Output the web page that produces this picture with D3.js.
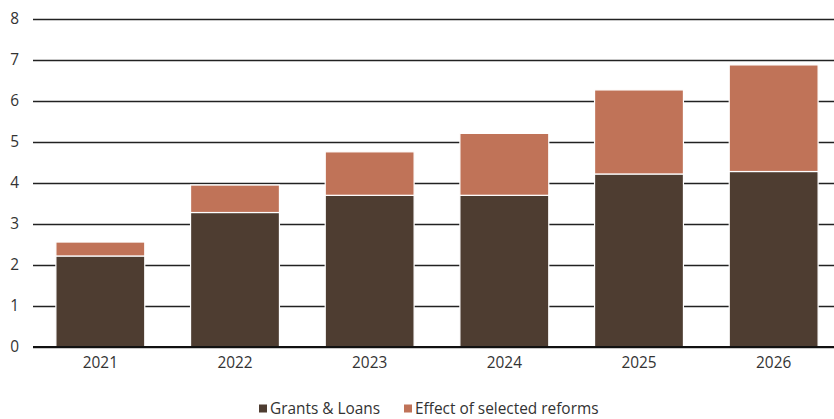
<!DOCTYPE html>
<html>
<head>
<meta charset="utf-8">
<script src="https://cdn.jsdelivr.net/npm/d3@7"></script>
<style>
  html, body { margin: 0; padding: 0; background: #fff; }
  svg { display: block; font-family: "Open Sans", "Noto Sans", sans-serif; }
</style>
</head>
<body>
<svg id="chart" width="834" height="419"></svg>
<script>
// Chart data
const years = ["2021", "2022", "2023", "2024", "2025", "2026"];
const grantsLoans = [2.22, 3.28, 3.70, 3.70, 4.22, 4.28];
const reformsEffect = [0.34, 0.67, 1.06, 1.51, 2.05, 2.60];
const yTicks = [0, 1, 2, 3, 4, 5, 6, 7, 8];
const seriesNames = ["Grants & Loans", "Effect of selected reforms"];
const seriesColors = ["#4e3d31", "#c07358"];

const svg = d3.select("#chart");
const W = 834;
const FS = 15.4;

const x = d3.scaleBand().domain(years).range([33, 841]).paddingInner(0.34).paddingOuter(0.17);
const y = d3.scaleLinear().domain([0, 8]).range([347, 19]);

// Horizontal gridlines
const grid = svg.append("g")
  .attr("transform", "translate(33,0)")
  .call(d3.axisLeft(y).tickValues(yTicks).tickSize(-(W - 33)).tickFormat(""));
grid.select(".domain").remove();
grid.selectAll(".tick line").attr("stroke", "#222").attr("stroke-width", 1.3);

// Y tick labels
const yAxis = svg.append("g")
  .attr("transform", "translate(19,0)")
  .call(d3.axisLeft(y).tickValues(yTicks).tickSize(0).tickPadding(0).tickFormat(d3.format("d")));
yAxis.select(".domain").remove();
yAxis.selectAll("text").attr("font-size", FS).attr("fill", "#333").attr("font-family", "\"Open Sans\", sans-serif");

// Stacked bars
const rows = years.map((yr, i) => ({ year: yr, g: grantsLoans[i], r: reformsEffect[i] }));
const stack = d3.stack().keys(["g", "r"])(rows);

svg.append("g").selectAll("g")
  .data(stack)
  .join("g")
  .attr("fill", (d, i) => seriesColors[i])
  .selectAll("rect")
  .data(d => d)
  .join("rect")
  .attr("x", d => x(d.data.year))
  .attr("width", x.bandwidth())
  .attr("y", d => y(d[1]))
  .attr("height", d => y(d[0]) - y(d[1]))
  .attr("stroke", "#fff")
  .attr("stroke-width", 1.2);

// Baseline
svg.append("line")
  .attr("x1", 33).attr("x2", W)
  .attr("y1", y(0)).attr("y2", y(0))
  .attr("stroke", "#111").attr("stroke-width", 2.2);

// X labels
const xAxis = svg.append("g")
  .attr("transform", `translate(0,${y(0) + 6})`)
  .call(d3.axisBottom(x).tickSize(0).tickPadding(4));
xAxis.select(".domain").remove();
xAxis.selectAll("text").attr("font-size", FS).attr("fill", "#333").attr("font-family", "\"Open Sans\", sans-serif");

// Legend
const legendItems = [
  { name: seriesNames[0], color: seriesColors[0], x: 259 },
  { name: seriesNames[1], color: seriesColors[1], x: 404 }
];
const legend = svg.append("g").selectAll("g").data(legendItems).join("g")
  .attr("transform", d => `translate(${d.x},408.5)`);
legend.append("rect").attr("x", 0).attr("y", -4).attr("width", 8).attr("height", 8).attr("fill", d => d.color);
legend.append("text").attr("x", 11).attr("y", 0).attr("dy", "0.35em")
  .attr("font-size", FS).attr("fill", "#333").text(d => d.name);
</script>
</body>
</html>
